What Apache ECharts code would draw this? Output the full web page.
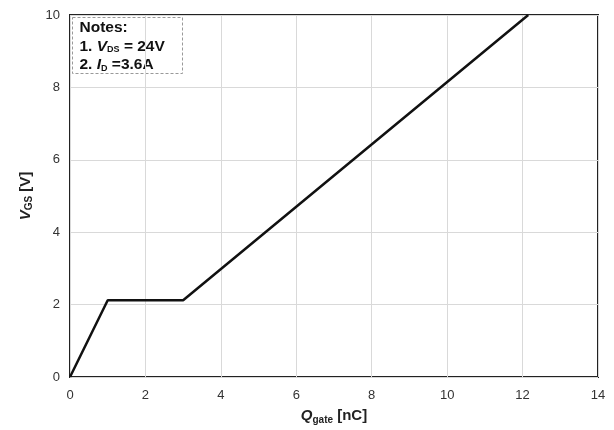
<!DOCTYPE html>
<html><head><meta charset="utf-8">
<script src="https://cdn.jsdelivr.net/npm/echarts@6/dist/echarts.min.js"></script>
<style>html,body{margin:0;padding:0;background:#fff}#c{width:614px;height:430px}</style>
</head><body><div id="c"></div>
<script>
const qgate = [0, 1.0, 3.0, 12.15];
const vgs = [0, 2.12, 2.12, 10];
const xTicks = [0, 2, 4, 6, 8, 10, 12, 14];
const yTicks = [0, 2, 4, 6, 8, 10];

const chart = echarts.init(document.getElementById('c'));
const font = 'Liberation Sans, Arial, sans-serif';
chart.setOption({
  animation: false,
  grid: {left: 70, right: 16, top: 15, bottom: 48, show: true, borderColor: '#222', borderWidth: 2, backgroundColor: 'transparent'},
  xAxis: {
    type: 'value', min: 0, max: 14, interval: 2,
    axisLine: {show: false}, axisTick: {show: false},
    splitLine: {lineStyle: {color: '#d9d9d9', width: 1}},
    axisLabel: {color: '#333', fontSize: 13, fontFamily: font, margin: 12},
    name: '{i|Q}{s|gate}{b| [nC]}', nameLocation: 'middle', nameGap: 30,
    nameTextStyle: {rich: {
      b: {fontSize: 15, fontWeight: 'bold', fontFamily: font, color: '#222'},
      i: {fontSize: 15, fontWeight: 'bold', fontStyle: 'italic', fontFamily: font, color: '#222'},
      s: {fontSize: 10, fontWeight: 'bold', fontFamily: font, color: '#222', padding: [8, 0, 0, 0]}
    }}
  },
  yAxis: {
    type: 'value', min: 0, max: 10, interval: 2,
    axisLine: {show: false}, axisTick: {show: false},
    splitLine: {lineStyle: {color: '#d9d9d9', width: 1}},
    axisLabel: {color: '#333', fontSize: 13, fontFamily: font, margin: 10},
    name: '{i|V}{s|GS}{b| [V]}', nameLocation: 'middle', nameGap: 34,
    nameTextStyle: {rich: {
      b: {fontSize: 15, fontWeight: 'bold', fontFamily: font, color: '#222'},
      i: {fontSize: 15, fontWeight: 'bold', fontStyle: 'italic', fontFamily: font, color: '#222'},
      s: {fontSize: 10, fontWeight: 'bold', fontFamily: font, color: '#222', padding: [8, 0, 0, 0]}
    }}
  },
  graphic: [{
    type: 'group', left: 72, top: 17,
    children: [
      {type: 'rect', shape: {x: 0, y: 0, width: 110, height: 56}, style: {fill: 'rgba(255,255,255,0.7)', stroke: '#999', lineWidth: 1, lineDash: [3, 2]}},
      {type: 'text', x: 7, y: 1, style: {
        text: '{b|Notes:}\n{b|1. }{i|V}{s|DS}{b| = 24V}\n{b|2. }{i|I}{s|D}{b| =3.6A}',
        rich: {
          b: {fontSize: 15.5, fontWeight: 'bold', fontFamily: font, fill: '#111', lineHeight: 18.5},
          i: {fontSize: 15.5, fontWeight: 'bold', fontStyle: 'italic', fontFamily: font, fill: '#111', lineHeight: 18.5},
          s: {fontSize: 9, fontWeight: 'bold', fontFamily: font, fill: '#111', lineHeight: 18.5, padding: [7, 0, 0, 0]}
        }
      }}
    ]
  }],
  series: [{
    type: 'line', data: qgate.map((q, i) => [q, vgs[i]]),
    showSymbol: false, lineStyle: {color: '#111', width: 2.5}, z: 5, clip: false
  }]
});
</script></body></html>
